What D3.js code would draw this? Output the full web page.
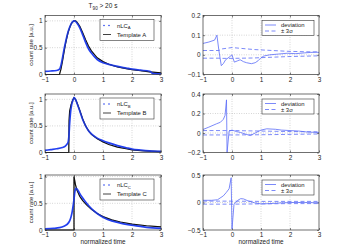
<!DOCTYPE html>
<html lang="en">
<head>
<meta charset="UTF-8">
<title>Templates</title>
<script src="https://cdn.jsdelivr.net/npm/d3@7"></script>
<style>
  body { margin: 0; background: #fff; }
  text { font-family: "Liberation Sans", Arial, sans-serif; fill: #222; }
</style>
</head>
<body>
<svg id="chart" width="339" height="247"></svg>
<script>
// values (normalized time -> value)

// panel A (T90 > 20 s)
const tNlcA  = [-1, -0.8, -0.6, -0.5, -0.45, -0.4, -0.35, -0.3, -0.25, -0.2, -0.15, -0.1, -0.05, 0, 0.05, 0.1, 0.2, 0.3, 0.4, 0.5, 0.6, 0.8, 1, 1.2, 1.5, 1.8, 2, 2.3, 2.6, 2.65, 2.7, 2.8, 3];
const nlcA   = [0.06, 0.065, 0.075, 0.1, 0.17, 0.3, 0.45, 0.58, 0.7, 0.8, 0.88, 0.94, 0.98, 1.0, 0.99, 0.96, 0.87, 0.74, 0.6, 0.48, 0.4, 0.28, 0.22, 0.19, 0.15, 0.12, 0.1, 0.08, 0.06, 0.05, 0.02, 0.015, 0.01];
const tTmplA = [-1, -0.5, -0.45, -0.4, -0.35, -0.3, -0.25, -0.2, -0.15, -0.1, -0.05, 0, 0.05, 0.1, 0.2, 0.3, 0.4, 0.5, 0.6, 0.8, 1, 1.2, 1.5, 1.8, 2, 2.3, 2.6, 2.8, 3];
const tmplA  = [0, 0, 0.1, 0.24, 0.4, 0.55, 0.68, 0.79, 0.87, 0.94, 0.98, 1.0, 1.0, 0.98, 0.9, 0.78, 0.65, 0.53, 0.44, 0.31, 0.24, 0.19, 0.14, 0.11, 0.09, 0.07, 0.05, 0.04, 0.03];
const tDevA  = [-1, -0.8, -0.6, -0.52, -0.45, -0.37, -0.3, -0.22, -0.1, 0, 0.08, 0.2, 0.28, 0.4, 0.5, 0.67, 0.8, 0.9, 1.0, 1.1, 1.3, 1.6, 1.9, 2.2, 2.5, 2.7, 2.9, 3];
const devA   = [0.058, 0.065, 0.075, 0.1, 0.02, -0.055, -0.045, -0.025, -0.012, 0, -0.037, -0.03, -0.025, -0.035, -0.04, -0.045, -0.04, -0.03, -0.015, -0.006, 0, 0.004, 0.008, 0.006, 0.01, 0.012, 0.014, 0.012];
const tSigA  = [-1, -0.45, -0.35, 0, 0.75, 1.9, 3];
const sigHiA = [0.022, 0.022, 0.03, 0.037, 0.027, 0.018, 0.014];
const sigLoA = [-0.017, -0.017, -0.018, -0.018, -0.016, -0.009, -0.005];

// panel B
const tNlcB  = [-1, -0.8, -0.6, -0.4, -0.3, -0.25, -0.2, -0.17, -0.15, -0.12, -0.08, -0.04, 0, 0.05, 0.1, 0.2, 0.3, 0.4, 0.5, 0.6, 0.8, 1, 1.2, 1.5, 1.8, 2, 2.3, 2.6, 3];
const nlcB   = [0.04, 0.055, 0.07, 0.095, 0.12, 0.15, 0.2, 0.35, 0.55, 0.75, 0.9, 0.98, 1.03, 1.0, 0.93, 0.78, 0.62, 0.5, 0.41, 0.35, 0.27, 0.22, 0.18, 0.13, 0.09, 0.065, 0.045, 0.03, 0.02];
const tTmplB = [-1, -0.18, -0.17, -0.15, -0.1, -0.05, 0, 0.05, 0.1, 0.2, 0.3, 0.4, 0.5, 0.6, 0.8, 1, 1.2, 1.5, 1.8, 2, 2.3, 2.6, 3];
const tmplB  = [0, 0, 0.6, 0.78, 0.9, 0.98, 1.03, 1.0, 0.94, 0.79, 0.63, 0.5, 0.41, 0.34, 0.26, 0.2, 0.15, 0.1, 0.07, 0.05, 0.035, 0.025, 0.015];
const tDevB  = [-1, -0.8, -0.53, -0.4, -0.3, -0.24, -0.19, -0.17, -0.1, 0, 0.15, 0.3, 0.45, 0.63, 0.8, 1.0, 1.2, 1.5, 1.7, 2, 2.3, 2.6, 3];
const devB   = [0.036, 0.06, 0.095, 0.11, 0.14, 0.18, 0.34, -0.2, 0.02, 0.03, 0.015, 0.005, -0.01, -0.026, 0.0, 0.03, 0.043, 0.038, 0.03, 0.025, 0.02, 0.01, 0.005];
const tSigB  = [-1, 0, 1, 2, 3];
const sigHiB = [0.025, 0.025, 0.02, 0.015, 0.012];
const sigLoB = [-0.02, -0.02, -0.018, -0.014, -0.01];

// panel C
const tNlcC  = [-1, -0.7, -0.5, -0.35, -0.25, -0.15, -0.1, -0.06, -0.03, 0, 0.03, 0.07, 0.1, 0.15, 0.2, 0.3, 0.45, 0.6, 0.8, 1, 1.3, 1.6, 2, 2.5, 3];
const nlcC   = [0.02, 0.03, 0.045, 0.07, 0.1, 0.17, 0.25, 0.35, 0.45, 0.58, 0.72, 0.78, 0.77, 0.73, 0.68, 0.6, 0.49, 0.4, 0.31, 0.24, 0.17, 0.13, 0.09, 0.05, 0.03];
const tTmplC = [-1, 0, 0, 0.05, 0.1, 0.2, 0.3, 0.45, 0.6, 0.8, 1, 1.3, 1.6, 2, 2.5, 3];
const tmplC  = [0, 0, 1.0, 0.85, 0.75, 0.63, 0.55, 0.46, 0.39, 0.31, 0.25, 0.19, 0.15, 0.11, 0.08, 0.06];
const tDevC  = [-1, -0.7, -0.5, -0.3, -0.2, -0.1, -0.03, 0.0, 0.07, 0.2, 0.3, 0.4, 0.55, 0.77, 1.0, 1.3, 1.6, 2, 2.5, 3];
const devC   = [0.04, 0.04, 0.05, 0.12, 0.18, 0.25, 0.45, -0.48, -0.03, 0.04, 0.07, 0.065, 0.03, -0.005, -0.025, -0.02, -0.01, 0, 0, -0.005];
const tSigC  = [-1, 0, 1, 2, 3];
const sigHiC = [0.025, 0.025, 0.02, 0.02, 0.02];
const sigLoC = [-0.03, -0.03, -0.025, -0.02, -0.02];

const xTicks = [-1, 0, 1, 2, 3];
const leftYTicks = [0, 0.5, 1];
const devYTicks = [[-0.1, 0, 0.1, 0.2], [-0.2, 0, 0.2, 0.4], [-0.5, 0, 0.5]];
const devYDomains = [[-0.1, 0.2], [-0.2, 0.4], [-0.5, 0.5]];
const leftYDomains = [[0, 1.1], [0, 1.1], [0, 1.03]];
const templateNames = ["A", "B", "C"];

const svg = d3.select("#chart");
const blue = "#2340f0";
const devBlue = "#5b6cf8";
const fmt = d => (d < 0 ? "\u2212" : "") + Math.abs(d);

const rows = [[15.5, 74.5], [94, 152.5], [175, 230]];
const leftX = [45, 161];
const rightX = [203, 319];

function zip(t, v) { return t.map((d, i) => [d, v[i]]); }

function frame(xr, yr, yDomain, yTicks) {
  const x = d3.scaleLinear().domain([-1, 3]).range(xr);
  const y = d3.scaleLinear().domain(yDomain).range([yr[1], yr[0]]);
  const g = svg.append("g");

  // dotted grid
  g.selectAll(".gx").data(xTicks.slice(1, -1)).enter().append("line")
    .attr("x1", d => x(d)).attr("x2", d => x(d))
    .attr("y1", yr[0]).attr("y2", yr[1])
    .attr("stroke", "#aaa").attr("stroke-width", 0.6).attr("stroke-dasharray", "0.8,1.6");
  g.selectAll(".gy").data(yTicks.filter(d => d > yDomain[0] && d < yDomain[1])).enter().append("line")
    .attr("x1", xr[0]).attr("x2", xr[1])
    .attr("y1", d => y(d)).attr("y2", d => y(d))
    .attr("stroke", "#aaa").attr("stroke-width", 0.6).attr("stroke-dasharray", "0.8,1.6");

  const ax = (gen, tr) => {
    const a = g.append("g").attr("transform", tr).call(gen);
    a.select(".domain").remove();
    a.selectAll("line").attr("stroke", "#333").attr("stroke-width", 0.6);
    a.selectAll("text").attr("font-size", 6.4).attr("fill", "#222");
    return a;
  };
  ax(d3.axisBottom(x).tickValues(xTicks).tickSize(-2).tickPadding(2.5).tickFormat(fmt), `translate(0,${yr[1]})`);
  ax(d3.axisTop(x).tickValues(xTicks).tickSize(-2).tickFormat(""), `translate(0,${yr[0]})`);
  ax(d3.axisLeft(y).tickValues(yTicks).tickSize(-2).tickPadding(2.5).tickFormat(fmt), `translate(${xr[0]},0)`);
  ax(d3.axisRight(y).tickValues(yTicks).tickSize(-2).tickFormat(""), `translate(${xr[1]},0)`);

  return { g, x, y };
}

function box(g, xr, yr) {
  g.append("rect").attr("x", xr[0]).attr("y", yr[0])
    .attr("width", xr[1] - xr[0]).attr("height", yr[1] - yr[0])
    .attr("fill", "none").attr("stroke", "#333").attr("stroke-width", 0.7);
}

const lcPanels = [
  [tNlcA, nlcA, tTmplA, tmplA],
  [tNlcB, nlcB, tTmplB, tmplB],
  [tNlcC, nlcC, tTmplC, tmplC]
];
const devPanels = [
  [tDevA, devA, tSigA, sigHiA, sigLoA],
  [tDevB, devB, tSigB, sigHiB, sigLoB],
  [tDevC, devC, tSigC, sigHiC, sigLoC]
];

rows.forEach((yr, i) => {
  // left: light curve + template
  const L = frame(leftX, yr, leftYDomains[i], leftYTicks);
  const line = d3.line().x(d => L.x(d[0])).y(d => L.y(d[1])).curve(d3.curveMonotoneX);
  const tline = d3.line().x(d => L.x(d[0])).y(d => L.y(d[1]));
  const [tn, vn, tt, vt] = lcPanels[i];
  L.g.append("path").datum(zip(tt, vt)).attr("d", tline)
    .attr("fill", "none").attr("stroke", "#111").attr("stroke-width", 1.2);
  L.g.append("path").datum(zip(tn, vn)).attr("d", line)
    .attr("fill", "none").attr("stroke", blue).attr("stroke-width", 1.7);
  L.g.append("path").datum(zip(tt, vt)).attr("d", tline)
    .attr("fill", "none").attr("stroke", "#111").attr("stroke-width", 0.5).attr("opacity", 0.5);
  box(L.g, leftX, yr);

  // legend (left)
  const lx = 100, ly = yr[0] + 4;
  const lg = L.g.append("g");
  lg.append("rect").attr("x", lx).attr("y", ly).attr("width", 54).attr("height", 21)
    .attr("fill", "#fff").attr("stroke", "#333").attr("stroke-width", 0.6);
  [lx + 4, lx + 9].forEach(cx => lg.append("circle").attr("cx", cx).attr("cy", ly + 6).attr("r", 0.8).attr("fill", blue));
  const t1 = lg.append("text").attr("x", lx + 17).attr("y", ly + 8).attr("font-size", 5.9).text("nLC");
  t1.append("tspan").attr("font-size", 4.2).attr("dy", 1.6).text(templateNames[i]);
  lg.append("line").attr("x1", lx + 3).attr("x2", lx + 11).attr("y1", ly + 15).attr("y2", ly + 15)
    .attr("stroke", "#111").attr("stroke-width", 0.8);
  lg.append("text").attr("x", lx + 17).attr("y", ly + 17).attr("font-size", 5.9).text("Template " + templateNames[i]);

  svg.append("text").attr("transform", `translate(33,${(yr[0] + yr[1]) / 2}) rotate(-90)`)
    .attr("text-anchor", "middle").attr("font-size", 6).text("count rate [a.u.]");

  // right: deviation + 3 sigma band
  const R = frame(rightX, yr, devYDomains[i], devYTicks[i]);
  const rl = d3.line().x(d => R.x(d[0])).y(d => R.y(d[1]));
  const [td, vd, ts, hi, lo] = devPanels[i];
  [hi, lo].forEach(s => R.g.append("path").datum(zip(ts, s)).attr("d", rl)
    .attr("fill", "none").attr("stroke", devBlue).attr("stroke-width", 0.8).attr("stroke-dasharray", "4,2.5"));
  R.g.append("path").datum(zip(td, vd)).attr("d", rl)
    .attr("fill", "none").attr("stroke", devBlue).attr("stroke-width", 0.8);
  box(R.g, rightX, yr);

  const rx = 262, ry = yr[0] + 5;
  const rg = R.g.append("g");
  rg.append("rect").attr("x", rx).attr("y", ry).attr("width", 52).attr("height", 15)
    .attr("fill", "#fff").attr("stroke", "#333").attr("stroke-width", 0.6);
  rg.append("line").attr("x1", rx + 3).attr("x2", rx + 14).attr("y1", ry + 4.5).attr("y2", ry + 4.5)
    .attr("stroke", devBlue).attr("stroke-width", 0.8);
  rg.append("line").attr("x1", rx + 3).attr("x2", rx + 14).attr("y1", ry + 10.5).attr("y2", ry + 10.5)
    .attr("stroke", devBlue).attr("stroke-width", 0.8).attr("stroke-dasharray", "4,2.5");
  rg.append("text").attr("x", rx + 19).attr("y", ry + 6.5).attr("font-size", 5.9).text("deviation");
  rg.append("text").attr("x", rx + 19).attr("y", ry + 12.5).attr("font-size", 5.9).text("\u00b1 3\u03c3");
});

// title and x labels
const title = svg.append("text").attr("x", (leftX[0] + leftX[1]) / 2).attr("y", 8)
  .attr("text-anchor", "middle").attr("font-size", 6.5).text("T");
title.append("tspan").attr("font-size", 4.6).attr("dy", 1.6).text("90");
title.append("tspan").attr("dy", -1.6).text(" > 20 s");

[leftX, rightX].forEach(xr => svg.append("text")
  .attr("x", (xr[0] + xr[1]) / 2).attr("y", 244).attr("text-anchor", "middle")
  .attr("font-size", 6.4).text("normalized time"));
</script>
</body>
</html>
